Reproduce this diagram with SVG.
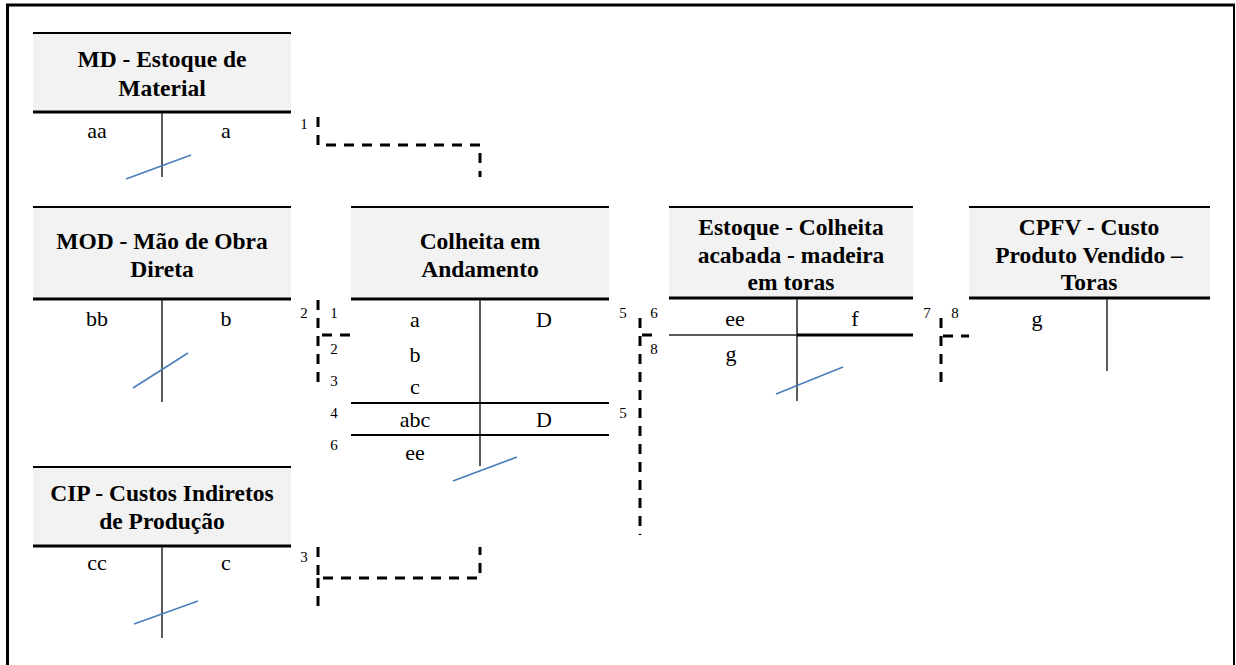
<svg xmlns="http://www.w3.org/2000/svg" width="1236" height="665" viewBox="0 0 1236 665">
<style>
.hd{fill:#f2f2f2;stroke:none}
.ht{stroke:#000;stroke-width:2}
.hb{stroke:#000;stroke-width:3}
.vc{stroke:#333;stroke-width:1.6}
.rl{stroke:#000;stroke-width:2}
.sl{stroke:#4a7ebb;stroke-width:1.6}
.dash{fill:none;stroke:#000;stroke-width:3;stroke-dasharray:10 8}
text{font-family:"Liberation Serif","Times New Roman","DejaVu Serif",serif;fill:#000;text-anchor:middle}
.h{font-weight:bold;font-size:23.5px}
.t{font-size:22px}
.n{font-size:15px}
</style>
<rect x="0" y="0" width="1236" height="665" fill="#fff"/>
<g id="frame">
<line x1="6" y1="5" x2="1235" y2="5" stroke="#000" stroke-width="3"/>
<line x1="7.5" y1="4" x2="7.5" y2="665" stroke="#000" stroke-width="3"/>
<line x1="1234" y1="4" x2="1234" y2="665" stroke="#000" stroke-width="2"/>
</g>

<g id="md">
<rect class="hd" x="33" y="33" width="258" height="79"/>
<line class="ht" x1="33" y1="33" x2="291" y2="33"/>
<line class="hb" x1="33" y1="112" x2="291" y2="112"/>
<text class="h" x="162" y="67">MD - Estoque de</text>
<text class="h" x="162" y="96">Material</text>
<line class="vc" x1="162" y1="113" x2="162" y2="177"/>
<text class="t" x="97" y="138">aa</text>
<text class="t" x="226" y="138">a</text>
<line class="sl" x1="126" y1="179" x2="191" y2="155"/>
</g>

<g id="mod">
<rect class="hd" x="33" y="207" width="258" height="92"/>
<line class="ht" x1="33" y1="207" x2="291" y2="207"/>
<line class="hb" x1="33" y1="299" x2="291" y2="299"/>
<text class="h" x="162" y="249">MOD - Mão de Obra</text>
<text class="h" x="162" y="277">Direta</text>
<line class="vc" x1="162" y1="300" x2="162" y2="402"/>
<text class="t" x="97" y="326">bb</text>
<text class="t" x="226" y="326">b</text>
<line class="sl" x1="133" y1="388" x2="188" y2="353"/>
</g>

<g id="cip">
<rect class="hd" x="33" y="467" width="258" height="79"/>
<line class="ht" x1="33" y1="467" x2="291" y2="467"/>
<line class="hb" x1="33" y1="546" x2="291" y2="546"/>
<text class="h" x="162" y="501">CIP - Custos Indiretos</text>
<text class="h" x="162" y="529">de Produção</text>
<line class="vc" x1="162" y1="547" x2="162" y2="638"/>
<text class="t" x="97" y="570">cc</text>
<text class="t" x="226" y="570">c</text>
<line class="sl" x1="134" y1="624" x2="198" y2="601"/>
</g>

<g id="colheita">
<rect class="hd" x="351" y="207" width="258" height="92"/>
<line class="ht" x1="351" y1="207" x2="609" y2="207"/>
<line class="hb" x1="351" y1="299" x2="609" y2="299"/>
<text class="h" x="480" y="249">Colheita em</text>
<text class="h" x="480" y="277">Andamento</text>
<line class="vc" x1="480" y1="300" x2="480" y2="466"/>
<line class="rl" x1="351" y1="403" x2="609" y2="403"/>
<line class="rl" x1="351" y1="435" x2="609" y2="435"/>
<text class="t" x="415" y="327">a</text>
<text class="t" x="544" y="327">D</text>
<text class="t" x="415" y="362">b</text>
<text class="t" x="415" y="394">c</text>
<text class="t" x="415" y="427">abc</text>
<text class="t" x="544" y="427">D</text>
<text class="t" x="415" y="460">ee</text>
<line class="sl" x1="453" y1="481" x2="517" y2="457"/>
</g>

<g id="estoque">
<rect class="hd" x="669" y="207" width="244" height="91"/>
<line class="ht" x1="669" y1="207" x2="913" y2="207"/>
<line class="hb" x1="669" y1="298" x2="913" y2="298"/>
<text class="h" x="791" y="235">Estoque - Colheita</text>
<text class="h" x="791" y="263">acabada - madeira</text>
<text class="h" x="791" y="290">em toras</text>
<line class="vc" x1="797" y1="299" x2="797" y2="401"/>
<line x1="669" y1="335" x2="797" y2="335" stroke="#222" stroke-width="1.6"/>
<line x1="797" y1="335" x2="913" y2="335" stroke="#000" stroke-width="3"/>
<text class="t" x="735" y="326">ee</text>
<text class="t" x="855" y="326">f</text>
<text class="t" x="731" y="361">g</text>
<line class="sl" x1="776" y1="394" x2="843" y2="367"/>
</g>

<g id="cpfv">
<rect class="hd" x="969" y="207" width="241" height="91"/>
<line class="ht" x1="969" y1="207" x2="1210" y2="207"/>
<line class="hb" x1="969" y1="298" x2="1210" y2="298"/>
<text class="h" x="1089" y="235">CPFV - Custo</text>
<text class="h" x="1089" y="263">Produto Vendido –</text>
<text class="h" x="1089" y="290">Toras</text>
<line class="vc" x1="1107" y1="299" x2="1107" y2="371"/>
<text class="t" x="1037" y="326">g</text>
</g>

<g id="connectors">
<path class="dash" d="M318 117 V145 H480 V177"/>
<path class="dash" d="M318 300 V390"/>
<path class="dash" d="M322 335 H350"/>
<path class="dash" d="M318 547 V578 H480 V547"/>
<path class="dash" d="M318 578 V610"/>
<path class="dash" d="M640 318 V535"/>
<path class="dash" d="M642 335 H660"/>
<path class="dash" d="M941 318 V390"/>
<path class="dash" d="M943 336 H969" stroke-dasharray="5 9 12 10"/>
</g>

<g id="labels">
<text class="n" x="304" y="129">1</text>
<text class="n" x="304" y="318">2</text>
<text class="n" x="304" y="562">3</text>
<text class="n" x="334" y="318">1</text>
<text class="n" x="334" y="354">2</text>
<text class="n" x="334" y="386">3</text>
<text class="n" x="334" y="418">4</text>
<text class="n" x="334" y="450">6</text>
<text class="n" x="623" y="318">5</text>
<text class="n" x="623" y="418">5</text>
<text class="n" x="654" y="318">6</text>
<text class="n" x="654" y="354">8</text>
<text class="n" x="927" y="318">7</text>
<text class="n" x="955" y="318">8</text>
</g>
</svg>
